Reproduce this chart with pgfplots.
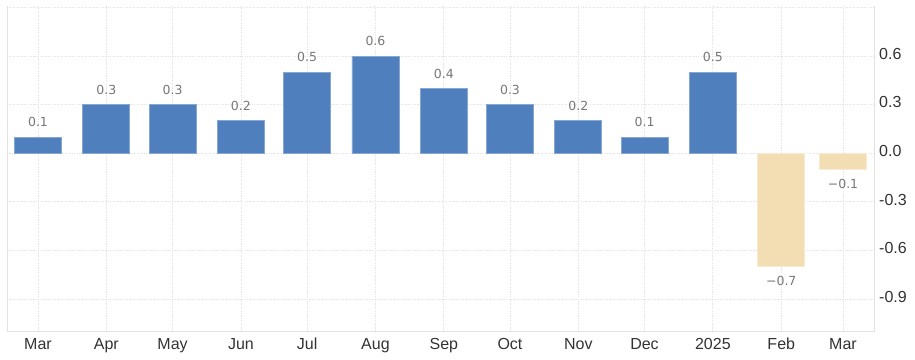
\documentclass[border=0pt]{standalone}
\usepackage{fontspec}
\setmainfont{Liberation Sans}
\newfontfamily\dejavu{DejaVu Sans}
\usepackage{pgfplots}
\pgfplotsset{compat=1.18}
\definecolor{barblue}{HTML}{4F80BD}
\definecolor{barblueedge}{HTML}{86A7D3}
\definecolor{barbeige}{HTML}{F3DDB3}
\definecolor{barbeigeedge}{HTML}{F8EBD2}
\definecolor{gridc}{HTML}{E3E3E3}
\definecolor{framec}{HTML}{E2E2E2}
\definecolor{tickc}{HTML}{333333}
\definecolor{labc}{HTML}{777777}

\pgfplotstableread{
x y l
0 0.1 0.1
31 0.3 0.3
61 0.3 0.3
92 0.2 0.2
122 0.5 0.5
153 0.6 0.6
184 0.4 0.4
214 0.3 0.3
245 0.2 0.2
275 0.1 0.1
306 0.5 0.5
}\pos
\pgfplotstableread{
x y l
337 -0.7 −0.7
365 -0.1 −0.1
}\negs

\begin{document}
\begin{tikzpicture}
\begin{axis}[
 scale only axis, width=867pt, height=325pt,
 xmin=-14.06, xmax=379.05, ymin=-1.097, ymax=0.909,
 axis line style={draw=none},
 xtick={0,31,61,92,122,153,184,214,245,275,306,337,365},
 xticklabels={Mar,Apr,May,Jun,Jul,Aug,Sep,Oct,Nov,Dec,2025,Feb,Mar},
 ytick={-0.9,-0.6,-0.3,0,0.3,0.6,0.9},
 yticklabels={-0.9,-0.6,-0.3,0.0,0.3,0.6,{}},
 yticklabel pos=right,
 major tick length=0pt,
 grid=major,
 major grid style={gridc, dash pattern=on 1.2pt off 1.2pt, line width=0.8pt},
 tick label style={font=\fontsize{16}{16}\selectfont, text=tickc, inner sep=0pt},
 xticklabel style={anchor=base, yshift=-18pt},
 yticklabel style={anchor=base west, xshift=5pt, yshift=-3.3pt},
 clip=false,
]
\addplot[ybar, bar shift=0pt, bar width=47pt, fill=barblue, draw=barblueedge, line width=0.8pt,
  nodes near coords, point meta=explicit symbolic,
  every node near coord/.append style={font=\dejavu\fontsize{12.5}{12.5}\selectfont, text=labc, anchor=center, yshift=15pt, inner sep=0pt}]
  table[x=x, y=y, meta=l]{\pos};
\addplot[ybar, bar shift=0pt, bar width=47pt, fill=barbeige, draw=barbeigeedge, line width=0.8pt,
  nodes near coords, point meta=explicit symbolic,
  every node near coord/.append style={font=\dejavu\fontsize{12.5}{12.5}\selectfont, text=labc, anchor=center, yshift=-14.5pt, inner sep=0pt}]
  table[x=x, y=y, meta=l]{\negs};
\draw[framec, line width=1pt] (rel axis cs:0,1) -- (rel axis cs:0,0) -- (rel axis cs:1,0) -- (rel axis cs:1,1);
\end{axis}
\pgfresetboundingbox
\path ([xshift=-7pt,yshift=-28pt]current axis.south west) rectangle ([xshift=41pt,yshift=6pt]current axis.north east);
\end{tikzpicture}
\end{document}
